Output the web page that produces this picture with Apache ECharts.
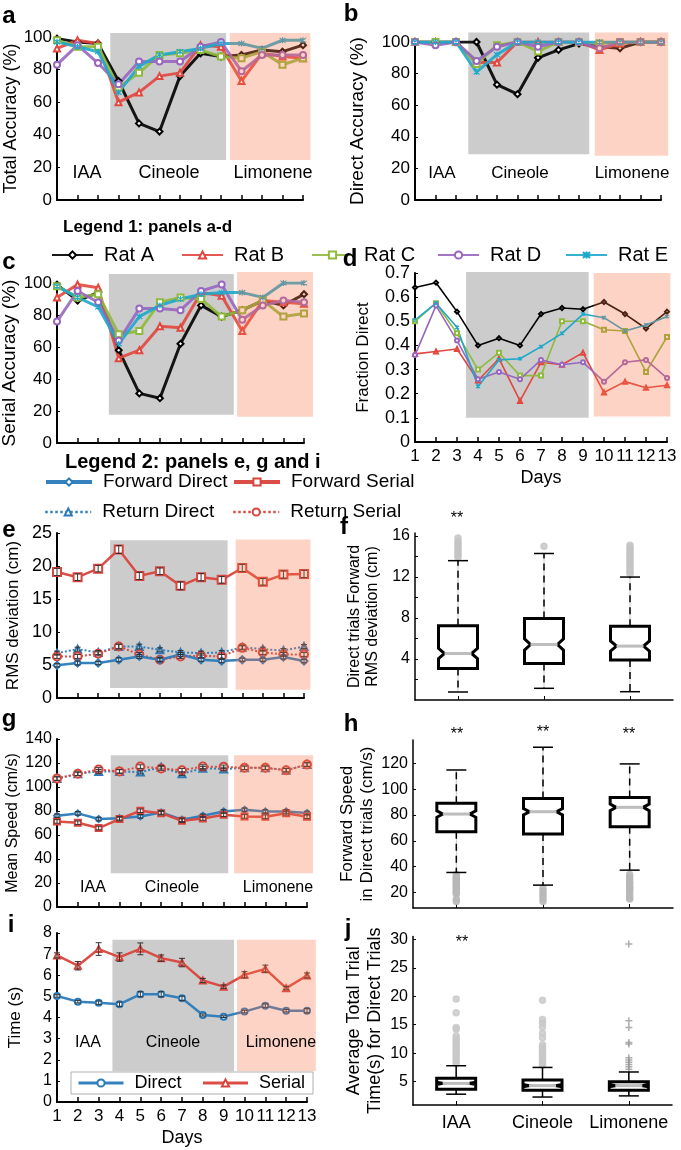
<!DOCTYPE html>
<html><head><meta charset="utf-8">
<script src="https://cdn.jsdelivr.net/npm/echarts@6/dist/echarts.min.js"></script>
<style>html,body{margin:0;padding:0;background:#fff}#c{width:681px;height:1150px}</style>
</head><body><div id="c"></div>
<script>
// ---------------- DATA ----------------
const days = [1,2,3,4,5,6,7,8,9,10,11,12,13];
const ratNames = ['Rat A','Rat B','Rat C','Rat D','Rat E'];
const odors = ['IAA','Cineole','Limonene'];

// a: Total Accuracy (%)
const totalAccuracy = [
  [99,97,96,73,47,42,76,90,88,89,92,91,95],
  [93,98,96,60,66,76,78,95,94,73,90,88,87],
  [98,94,94,69,78,89,90,92,88,87,91,83,87],
  [83,95,84,71,85,85,85,94,97,79,89,89,89],
  [97,94,91,66,82,89,91,93,96,96,93,98,98]
];
// b: Direct Accuracy (%)
const directAccuracy = [
  [100,100,100,100,73,67,90,95,99,97,96,100,100],
  [100,100,100,87,87,100,100,100,100,95,99,100,100],
  [100,100,100,86,98,100,94,100,100,99,100,100,100],
  [100,98,100,88,97,100,97,100,100,96,100,100,100],
  [100,100,100,81,92,100,100,100,100,100,100,100,100]
];
// c: Serial Accuracy (%)
const serialAccuracy = [
  [99,89,94,58,31,28,62,86,79,83,89,86,93],
  [91,99,97,53,58,73,72,94,92,70,89,88,87],
  [98,91,93,68,70,88,91,90,79,83,89,79,81],
  [76,95,88,64,84,84,83,95,99,77,86,89,88],
  [98,91,85,62,79,86,90,93,94,94,91,100,100]
];
// d: Fraction Direct
const fractionDirect = [
  [0.64,0.66,0.54,0.40,0.43,0.40,0.53,0.555,0.55,0.58,0.53,0.47,0.54],
  [0.365,0.375,0.385,0.255,0.345,0.17,0.33,0.32,0.37,0.205,0.25,0.225,0.235],
  [0.50,0.575,0.45,0.30,0.37,0.275,0.275,0.50,0.50,0.465,0.46,0.29,0.435],
  [0.36,0.565,0.42,0.26,0.29,0.26,0.34,0.32,0.33,0.25,0.33,0.34,0.265],
  [0.505,0.575,0.475,0.23,0.34,0.345,0.395,0.45,0.53,0.515,0.46,0.485,0.52]
];
// e: RMS deviation (cm)
const rmsForwardDirect = [4.95,5.3,5.3,5.8,6.3,5.8,6.6,5.8,5.6,5.8,5.8,6.2,5.6];
const rmsForwardSerial = [19.1,18.3,19.6,22.5,18.5,19.2,17.0,18.3,17.9,19.7,17.6,18.7,18.8];
const rmsReturnDirect  = [6.8,7.4,6.9,7.8,7.8,7.3,6.9,6.8,6.9,7.7,7.4,7.2,7.8];
const rmsReturnSerial  = [6.3,6.3,6.7,7.8,6.6,5.8,6.3,6.4,6.3,7.6,6.9,6.6,6.6];
const rmsErrFD = [0.25,0.3,0.25,0.3,0.3,0.3,0.3,0.25,0.25,0.25,0.25,0.3,0.25];
const rmsErrFS = [0.55,0.5,0.5,0.6,0.55,0.5,0.6,0.55,0.5,0.55,0.5,0.55,0.55];
const rmsErrRD = [0.3,0.3,0.3,0.35,0.35,0.3,0.3,0.3,0.3,0.3,0.3,0.3,0.3];
const rmsErrRS = [0.3,0.3,0.3,0.35,0.3,0.3,0.3,0.3,0.3,0.3,0.3,0.3,0.3];
// g: Mean Speed (cm/s)
const spdForwardDirect = [76,78,73.3,74,75.5,78.8,72.7,76,79.6,81,79.6,79.6,78.3];
const spdForwardSerial = [71.3,70.2,65.8,73.3,80.2,78.2,71.9,73.8,76.9,75.5,75.2,78.2,75.2];
const spdReturnDirect  = [107,111,113,113,112.4,116.5,111,115.7,115,116,116,114,118.7];
const spdReturnSerial  = [107,111,114.6,113,117,115.4,114,117,116.8,116,116,114,118.7];
const spdErr = [1.5,1.5,1.5,1.5,1.5,1.5,1.5,1.5,1.5,1.5,1.5,1.5,1.5];
// i: Time (s)
const timeDirect = [5.02,4.75,4.7,4.63,5.1,5.1,4.91,4.12,4.04,4.28,4.56,4.32,4.32];
const timeSerial = [6.94,6.45,7.24,6.86,7.25,6.81,6.6,5.75,5.46,6.02,6.3,5.39,5.99];
const timeErrDirect = [0.06,0.06,0.08,0.1,0.12,0.12,0.1,0.05,0.04,0.06,0.08,0.06,0.1];
const timeErrSerial = [0.12,0.2,0.3,0.2,0.28,0.15,0.2,0.1,0.08,0.15,0.18,0.08,0.12];
// f, h, j box plots: [lowWhisker, Q1, median, Q3, highWhisker]
const fBoxes = [[0.78,3.08,4.54,7.24,13.6],[1.14,3.57,5.42,7.95,14.3],[0.81,3.9,5.26,7.2,12.0]];
const fNotch = [0.5,0.55,0.5];
const fOutliers = [[13.9,14.1,14.3,14.5,14.7,14.9,15.1,15.3,15.5,15.8],[15.0],[12.3,12.5,12.7,12.9,13.1,13.3,13.5,13.7,13.9,14.1,14.3,14.5,14.7,14.9,15.1]];
const hBoxes = [[35.5,67,80.7,89,114.8],[25.7,65.2,82.5,92.8,132.4],[37.3,70.9,85.9,93.6,119.5]];
const hNotch = [2.5,2.5,2.5];
const hOutliers = [[34,32,31,30,29,28,27,26,25,24,23,22,21,20,19,15,13],[23,21,19,17,15,13],[34,32,30,28,27,25,24,23,22,20,18,16,15]];
const jBoxes = [[2.8,3.66,4.7,5.6,7.8],[2.3,3.5,4.3,5.3,7.5],[2.5,3.5,4.3,5.0,6.7]];
const jNotch = [0.2,0.2,0.2];
const jOutliers = [[8.2,8.6,9,9.4,9.8,10.2,10.6,11,11.4,11.8,12.2,12.6,13,14.2,14.5,17.1,19.5],[7.9,8.3,8.7,9.1,9.5,9.9,10.3,10.7,11.1,11.5,12.7,13.5,14.6,15.3,15.9,19.3],[7.2,7.6,8.0,8.4,8.8,9.2,11.6,11.9,14.5,15.7,29.2]];
// odour periods [xFrom, xTo, yFrom, yTo] in data units
const shadeA = {gray:[3.6,9.25,24.5,102.5], pink:[9.43,13.36,24.5,102.5]};
const shadeB = {gray:[3.6,9.5,29,106], pink:[9.77,13.35,28,106]};
const shadeC = {gray:[3.52,9.59,17.6,105.7], pink:[9.75,13.44,16.4,106.9]};
const shadeD = {gray:[3.43,9.27,0.10,0.704], pink:[9.51,13.16,0.106,0.70]};
const shadeE = {gray:[3.58,9.29,1.5,23.9], pink:[9.68,13.31,1.26,24.0]};
const shadeG = {gray:[3.58,9.22,28.1,126.4], pink:[9.5,13.29,28.1,126.4]};
const shadeI = {gray:[3.66,9.5,1.46,7.68], pink:[9.64,13.42,1.46,7.68]};

// ---------------- STYLE ----------------
const FONT = '"Liberation Sans", Arial, Helvetica, sans-serif';
const STAR = 'path://M1,1L9,9M1,9L9,1M5,0L5,10';
const ratColors = ['#000000','#e2473f','#8fba3c','#9866c0','#1ea8cc'];
const ratSymbols = ['emptyDiamond','emptyTriangle','emptyRect','emptyCircle',STAR];
const BLUE = '#2b7bba', RED = '#d9443c';
const GRAY = '#cccccc', PINK = 'rgba(248,108,62,0.30)';

const grids = [
  {left:57, top:37, width:246, height:163},   // a
  {left:415, top:42, width:246, height:158},  // b
  {left:57, top:283, width:247, height:160},  // c
  {left:415, top:273, width:252, height:169}, // d
  {left:57, top:533, width:247, height:165},  // e
  {left:415, top:533, width:258, height:167}, // f
  {left:57, top:739, width:250, height:168},  // g
  {left:413, top:740, width:260, height:168}, // h
  {left:57, top:933, width:250, height:169},  // i
  {left:413, top:936.5, width:259, height:168.5} // j
].map(g => Object.assign({containLabel:false, outerBoundsMode:'none'}, g));

function xDays(gi, labels) {
  return {type:'value', gridIndex:gi, min:1, max:13, interval:1,
    axisLine:{show:true, onZero:false, lineStyle:{color:'#000', width:2}},
    axisTick:{show:true, inside:true, length:5, lineStyle:{color:'#000', width:1.5}},
    axisLabel:{show:labels, fontSize:17, color:'#000', margin:6, fontFamily:FONT},
    splitLine:{show:false},
    name: labels ? 'Days' : '', nameLocation:'middle', nameGap:27,
    nameTextStyle:{fontSize:18, color:'#000', fontFamily:FONT}};
}
function xCat(gi, labels) {
  return {type:'category', gridIndex:gi, data:odors, boundaryGap:true,
    axisLine:{show:true, onZero:false, lineStyle:{color:'#000', width:1.5}},
    axisTick:{show:true, inside:true, alignWithLabel:true, length:4, lineStyle:{color:'#000'}},
    axisLabel:{show:labels, interval:0, fontSize:18, color:'#000', margin:9, fontFamily:FONT},
    splitLine:{show:false}};
}
function yAx(gi, o) {
  const ax = {type:'value', gridIndex:gi, min:o.min, max:o.max,
    axisLine:{show:true, onZero:false, lineStyle:{color:'#000', width:o.lw || 2}},
    axisTick:{show:true, inside:true, length:3, lineStyle:{color:'#000'}},
    axisLabel:{fontSize:o.ls || 17, color:'#000', margin:5, fontFamily:FONT},
    splitLine:{show:false},
    name:o.name, nameLocation:'middle', nameGap:o.gap,
    nameTextStyle:{fontSize:o.ns, color:'#000', fontFamily:FONT, lineHeight:o.lh || o.ns}};
  if (o.interval !== undefined) ax.interval = o.interval;
  if (o.labels) ax.axisLabel.customValues = o.labels;
  if (o.ticks) ax.axisTick.customValues = o.ticks;
  return ax;
}

const xAxes = [xDays(0,false), xDays(1,false), xDays(2,false), xDays(3,true), xDays(4,false),
  xCat(5,false), xDays(6,false), xCat(7,false), xDays(8,true), xCat(9,true)];
const yAxes = [
  yAx(0,{min:0,max:100,interval:20,name:'Total Accuracy (%)',ns:18,gap:32}),
  yAx(1,{min:0,max:100,interval:20,name:'Direct Accuracy (%)',ns:19,gap:48}),
  yAx(2,{min:0,max:100,interval:20,name:'Serial Accuracy (%)',ns:19,gap:31}),
  yAx(3,{min:0,max:0.7,interval:0.1,name:'Fraction Direct',ns:17,gap:43,ls:18}),
  yAx(4,{min:0,max:25,interval:5,name:'RMS deviation (cm)',ns:17,gap:35,ls:18}),
  yAx(5,{min:0,max:16.3,name:'Direct trials Forward\nRMS deviation (cm)',ns:16,lh:18,gap:33,lw:1.5,ls:16,labels:[4,8,12,16],ticks:[2,4,6,8,10,12,14,16]}),
  yAx(6,{min:0,max:140,interval:20,name:'Mean Speed (cm/s)',ns:16,gap:36,ls:16}),
  yAx(7,{min:8,max:138,name:'Forward Speed\nin Direct trials (cm/s)',ns:17,lh:20,gap:31,lw:1.5,ls:16,labels:[20,40,60,80,100,120],ticks:[20,40,60,80,100,120]}),
  yAx(8,{min:0,max:8,interval:1,name:'Time (s)',ns:17,gap:33,ls:16}),
  yAx(9,{min:0.9,max:30.5,name:'Average Total Trial\nTime(s) for Direct Trials',ns:18,lh:21,gap:27,lw:1.5,ls:16,labels:[5,10,15,20,25,30],ticks:[5,10,15,20,25,30]})
];

// ---------------- SERIES ----------------
const series = [];
function shade(gi, rect, color, z) {
  series.push({type:'custom', xAxisIndex:gi, yAxisIndex:gi, z:z, silent:true, clip:false,
    data:[rect], encode:{x:[0,1], y:[2,3]},
    renderItem:(p, api) => {
      const a = api.coord([api.value(0), api.value(3)]);
      const b = api.coord([api.value(1), api.value(2)]);
      return {type:'rect', shape:{x:a[0], y:a[1], width:b[0]-a[0], height:b[1]-a[1]}, style:{fill:color}};
    }});
}
function shades(gi, s) { shade(gi, s.gray, GRAY, 1); shade(gi, s.pink, PINK, 10); }
function ratPanel(gi, arr, lw, sym, op) {
  arr.forEach((vals, r) => series.push({type:'line', name:ratNames[r], xAxisIndex:gi, yAxisIndex:gi, z:3,
    data: days.map((d,i)=>[d, vals[i]]), symbol:ratSymbols[r], symbolSize:sym, showSymbol:true,
    lineStyle:{color:ratColors[r], width:lw, opacity:op},
    itemStyle:{color:ratColors[r], borderColor:ratColors[r], borderWidth:1.2}, silent:true}));
}
function line(gi, name, vals, color, o) {
  series.push({type:'line', name:name, xAxisIndex:gi, yAxisIndex:gi, z:3,
    data: days.map((d,i)=>[d, vals[i]]), symbol:o.symbol, symbolSize:o.size, showSymbol:true,
    lineStyle:{color:color, width:o.width, type:o.type || 'solid', opacity:0.95},
    itemStyle:{color:color, borderColor:color, borderWidth:1.3}, silent:true});
}
function err(gi, vals, errs) {
  series.push({type:'custom', xAxisIndex:gi, yAxisIndex:gi, z:4, silent:true,
    data: days.map((d,i)=>[d, vals[i]-errs[i], vals[i]+errs[i]]), encode:{x:0, y:[1,2]},
    renderItem:(p, api) => {
      const lo = api.coord([api.value(0), api.value(1)]);
      const hi = api.coord([api.value(0), api.value(2)]);
      const st = {stroke:'#333', lineWidth:1};
      return {type:'group', children:[
        {type:'line', shape:{x1:lo[0], y1:lo[1], x2:hi[0], y2:hi[1]}, style:st},
        {type:'line', shape:{x1:lo[0]-3, y1:lo[1], x2:lo[0]+3, y2:lo[1]}, style:st},
        {type:'line', shape:{x1:hi[0]-3, y1:hi[1], x2:hi[0]+3, y2:hi[1]}, style:st}]};
    }});
}
function boxes(gi, data, notches, dash) {
  series.push({type:'custom', xAxisIndex:gi, yAxisIndex:gi, z:3, silent:true,
    data: data.map((b,i)=>[i].concat(b)), encode:{x:0, y:[1,2,3,4,5]},
    renderItem:(p, api) => {
      const i = api.value(0);
      const Y = v => api.coord([i, v])[1];
      const x = api.coord([i, api.value(3)])[0];
      const lo = api.value(1), q1 = api.value(2), md = api.value(3), q3 = api.value(4), hi = api.value(5);
      const n = notches[p.dataIndex];
      const hw = 19.5, k = 6, cw = 10;
      const ch = [];
      const wh = (a, b) => {
        ch.push({type:'line', shape:{x1:x, y1:Y(a), x2:x, y2:Y(b)}, style:{stroke:'#c8c8c8', lineWidth:1}});
        ch.push({type:'line', shape:{x1:x, y1:Y(a), x2:x, y2:Y(b)}, style:{stroke:'#000', lineWidth:1.5, lineDash:dash}});
        ch.push({type:'line', shape:{x1:x-cw, y1:Y(b), x2:x+cw, y2:Y(b)}, style:{stroke:'#000', lineWidth:1.5}});
      };
      wh(q3, hi); wh(q1, lo);
      const pts = [[x-hw,Y(q3)],[x+hw,Y(q3)],[x+hw,Y(md+n)],[x+hw-k,Y(md)],[x+hw,Y(md-n)],[x+hw,Y(q1)],
                   [x-hw,Y(q1)],[x-hw,Y(md-n)],[x-hw+k,Y(md)],[x-hw,Y(md+n)]];
      ch.push({type:'polygon', shape:{points:pts}, style:{fill:'#fff', stroke:'#000', lineWidth:3}});
      ch.push({type:'line', shape:{x1:x-hw+k, y1:Y(md), x2:x+hw-k, y2:Y(md)}, style:{stroke:'#bdbdbd', lineWidth:3}});
      return {type:'group', children:ch};
    }});
}
function outliers(gi, lists, symbol, color, size, only) {
  const pts = [];
  lists.forEach((l, i) => { if (only === undefined || only.indexOf(i) >= 0) l.forEach(v => pts.push([i, v])); });
  series.push({type:'scatter', xAxisIndex:gi, yAxisIndex:gi, z:2, silent:true, data:pts,
    symbol:symbol, symbolSize:size, itemStyle:{color:color, borderColor:color, borderWidth:1.5}});
}

// a-d
shades(0, shadeA); ratPanel(0, totalAccuracy, 3, 6, 0.9);
shades(1, shadeB); ratPanel(1, directAccuracy, 3, 6, 0.9);
shades(2, shadeC); ratPanel(2, serialAccuracy, 3, 6, 0.9);
shades(3, shadeD); ratPanel(3, fractionDirect, 1.6, 4, 1);
// e
shades(4, shadeE);
line(4,'Return Direct', rmsReturnDirect, BLUE, {symbol:'emptyTriangle', size:7, width:2, type:'dotted'});
line(4,'Return Serial', rmsReturnSerial, RED, {symbol:'emptyCircle', size:8, width:2, type:'dotted'});
line(4,'Forward Direct', rmsForwardDirect, BLUE, {symbol:'emptyDiamond', size:7, width:2.5});
line(4,'Forward Serial', rmsForwardSerial, RED, {symbol:'emptyRect', size:8, width:2.5});
err(4, rmsForwardDirect, rmsErrFD); err(4, rmsForwardSerial, rmsErrFS);
err(4, rmsReturnDirect, rmsErrRD); err(4, rmsReturnSerial, rmsErrRS);
// g
shades(6, shadeG);
line(6,'Return Direct', spdReturnDirect, BLUE, {symbol:'emptyTriangle', size:7, width:2, type:'dotted'});
line(6,'Return Serial', spdReturnSerial, RED, {symbol:'emptyCircle', size:8, width:2, type:'dotted'});
line(6,'Forward Direct', spdForwardDirect, BLUE, {symbol:'emptyDiamond', size:6, width:2.5});
line(6,'Forward Serial', spdForwardSerial, RED, {symbol:'emptyRect', size:6, width:2.5});
err(6, spdForwardDirect, spdErr); err(6, spdForwardSerial, spdErr);
err(6, spdReturnDirect, spdErr); err(6, spdReturnSerial, spdErr);
// i
shades(8, shadeI);
line(8,'Direct', timeDirect, BLUE, {symbol:'emptyCircle', size:6, width:2.5});
line(8,'Serial', timeSerial, RED, {symbol:'emptyTriangle', size:6, width:2.5});
err(8, timeDirect, timeErrDirect); err(8, timeSerial, timeErrSerial);
// f, h, j
outliers(5, fOutliers, 'circle', '#c4c4c4', 6);
boxes(5, fBoxes, fNotch, [7,5]);
outliers(7, hOutliers, 'circle', '#b8b8b8', 6);
boxes(7, hBoxes, hNotch, [7,5]);
outliers(9, jOutliers, 'circle', '#c8c8c8', 6, [0,1]);
outliers(9, jOutliers, 'path://M5,0L5,10M0,5L10,5', '#999999', 7, [2]);
boxes(9, jBoxes, jNotch, null);

// ---------------- LEGENDS ----------------
function leg(name, left, cy, w, fs, lw) {
  const l = {data:[name], left:left, top:cy - fs/2, itemWidth:w, itemHeight:9, padding:0, itemGap:0,
    selectedMode:false, textStyle:{fontSize:fs, color:'#000', fontFamily:FONT, padding:[0,0,0,6]}};
  if (lw) l.lineStyle = {width:lw};
  return l;
}
const legends = [
  leg('Rat A', 51, 255, 41, 20, 2), leg('Rat B', 181, 255, 41, 20, 2), leg('Rat C', 311, 255, 41, 20, 2),
  leg('Rat D', 437, 255, 41, 20, 2), leg('Rat E', 565, 255, 41, 20, 2),
  leg('Forward Direct', 44, 482, 46, 19, 4), leg('Forward Serial', 232, 482, 46, 19, 4),
  leg('Return Direct', 44, 512, 46, 19, 2.5), leg('Return Serial', 232, 512, 46, 19, 2.5),
  {data:['Direct','Serial'], left:71, top:1072, itemWidth:45, itemHeight:9, itemGap:20,
    padding:[2,8,2,6], borderColor:'#b0b0b0', borderWidth:1, backgroundColor:'#fff', selectedMode:false, z:20,
    lineStyle:{width:3}, textStyle:{fontSize:18, color:'#000', fontFamily:FONT, padding:[0,0,0,6]}}
];

// ---------------- TEXT ----------------
const graphics = [];
function txt(x, y, s, size, bold, align) {
  graphics.push({type:'text', x:x, y:y, z:100, silent:true,
    style:{text:s, fill:'#000', fontSize:size, fontWeight:bold ? 'bold' : 'normal', fontFamily:FONT,
      align:align || 'center', verticalAlign:'middle'}});
}
[['a',9,16],['b',351,14],['c',9,262],['d',350,259],['e',9,530],['f',344,527],
 ['g',9,719],['h',351,724],['i',11,925],['j',348,929]].forEach(t => txt(t[1], t[2], t[0], 24, true));
txt(63, 227, 'Legend 1: panels a-d', 17, true, 'left');
txt(65, 462, 'Legend 2: panels e, g and i', 20, true, 'left');
[[87,169,273,173,18],[442,520,632,173,17],[93,172,278,888,16],[88,173,281,1043,16]].forEach(r => {
  txt(r[0], r[3], 'IAA', r[4]); txt(r[1], r[3], 'Cineole', r[4]); txt(r[2], r[3], 'Limonene', r[4]);
});
txt(457, 519, '**', 16); txt(457, 735, '**', 16); txt(543, 733, '**', 16); txt(629, 735, '**', 16);
txt(462, 943, '**', 16);

const chart = echarts.init(document.getElementById('c'), null, {renderer:'canvas'});
chart.setOption({
  animation:false, backgroundColor:'#fff',
  textStyle:{fontFamily:FONT},
  grid:grids, xAxis:xAxes, yAxis:yAxes, series:series, legend:legends, graphic:graphics
});
</script></body></html>
